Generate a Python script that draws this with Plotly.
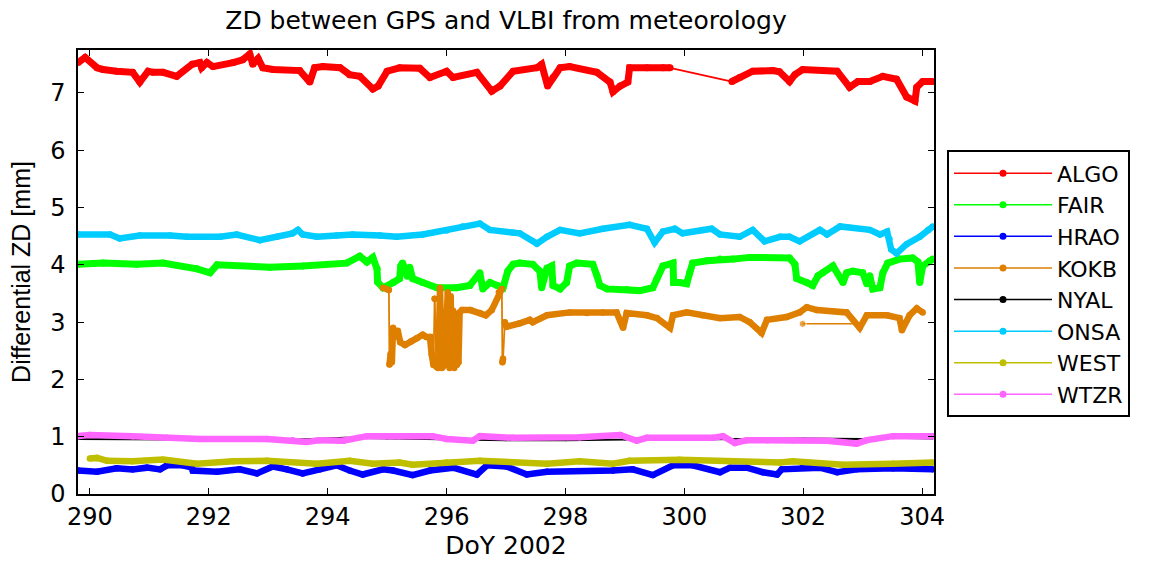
import plotly.graph_objects as go

# Differential zenith delay (GPS minus VLBI, meteorology based), DoY 2002.
# None marks a gap in the record; gaps are bridged with a thin line.

algo_day = [289.80, 289.92, 290.12, 290.22, 290.45, 290.72, 290.84, 290.98, 291.06, 291.23,
            291.46, 291.72, 291.85, 291.88, 291.97, 292.07, 292.41, 292.57, 292.69, 292.74,
            292.83, 292.91, 293.08, 293.53, 293.70, 293.78, 293.92, 294.21, 294.37, 294.54,
            294.76, 294.85, 295.00, 295.21, 295.55, 295.72, 296.00, 296.11, 296.51, 296.76,
            296.90, 297.12, 297.52, 297.60, 297.70, 297.79, 297.91, 298.07, 298.53, 298.75,
            298.80, 298.92, 299.05, 299.08, 299.37, 299.64, 299.76, None,
            300.80, 300.93, 301.15, 301.49, 301.60, 301.77, 301.86, 301.99, 302.57, 302.78,
            302.92, 303.12, 303.34, 303.57, 303.74, 303.88, 303.91, 304.01, 304.18]
algo_zd = [7.53, 7.62, 7.44, 7.41, 7.38, 7.36, 7.19, 7.38, 7.36, 7.36,
           7.29, 7.50, 7.53, 7.44, 7.53, 7.46, 7.53, 7.58, 7.68, 7.50,
           7.60, 7.44, 7.41, 7.39, 7.19, 7.44, 7.46, 7.44, 7.32, 7.29,
           7.07, 7.12, 7.38, 7.44, 7.43, 7.27, 7.38, 7.27, 7.36, 7.03,
           7.12, 7.38, 7.44, 7.50, 7.12, 7.27, 7.44, 7.46, 7.36, 7.19,
           7.02, 7.12, 7.19, 7.44, 7.44, 7.44, 7.44, None,
           7.20, 7.27, 7.38, 7.39, 7.37, 7.20, 7.32, 7.41, 7.38, 7.10,
           7.20, 7.20, 7.29, 7.24, 6.93, 6.86, 7.10, 7.20, 7.20]

fair_day = [289.80, 290.22, 290.79, 291.23, 291.80, 292.02, 292.14, 293.03, 293.58, 294.32,
            294.54, 294.66, 294.76, 294.83, 294.84, 294.93, 295.10, 295.21, 295.23, 295.26,
            295.31, 295.34, 295.38, 295.43, 295.60, 295.84, 296.17, 296.39, 296.56, 296.61,
            296.73, 296.85, 296.95, 297.03, 297.12, 297.23, 297.45, 297.57, 297.60, 297.69,
            297.77, 297.79, 297.91, 298.02, 298.07, 298.19, 298.46, 298.53, 298.58, 298.70,
            299.03, 299.25, 299.47, 299.54, 299.64, 299.81, 299.82, 299.92, 300.04, 300.09,
            300.14, 300.38, 300.60, 300.82, 301.10, 301.77, 301.86, 301.89, 302.06, 302.16,
            302.25, 302.33, 302.50, 302.67, 302.73, 302.83, 303.00, 303.07, 303.12, 303.17,
            303.29, 303.34, 303.42, 303.62, 303.84, 303.93, 303.96, 304.01, 304.13, 304.18]
fair_zd = [4.01, 4.03, 4.01, 4.03, 3.93, 3.86, 4.00, 3.96, 3.98, 4.03,
           4.15, 4.05, 4.13, 3.93, 3.70, 3.60, 3.69, 3.76, 3.98, 4.03,
           3.92, 3.80, 3.96, 3.76, 3.69, 3.60, 3.60, 3.64, 3.86, 3.58,
           3.69, 3.64, 3.60, 3.89, 4.01, 4.03, 4.01, 3.89, 3.60, 3.94,
           3.98, 3.64, 3.58, 3.69, 3.98, 4.03, 4.01, 3.81, 3.64, 3.58,
           3.57, 3.55, 3.60, 3.76, 3.98, 4.03, 3.69, 3.69, 3.67, 3.86,
           4.03, 4.07, 4.10, 4.10, 4.13, 4.12, 4.01, 3.76, 3.69, 3.64,
           3.81, 3.86, 3.98, 3.69, 3.86, 3.89, 3.86, 3.67, 3.81, 3.58,
           3.60, 3.86, 4.03, 4.10, 4.12, 4.05, 3.69, 3.98, 4.07, 4.10]

hrao_day = [289.80, 290.12, 290.45, 290.72, 290.96, 291.18, 291.30, 291.56, 291.72, 291.73,
            292.14, 292.52, 292.81, 293.08, 293.31, 293.58, 293.87, 294.15, 294.37, 294.59,
            294.93, 295.10, 295.43, 295.72, 296.11, 296.51, 296.68, 297.01, 297.35, 297.69,
            298.80, 299.13, 299.47, 299.81, 300.14, 300.60, 300.77, 301.05, 301.32, 301.56,
            301.64, 301.99, 302.28, 302.57, 302.90, 303.51, 304.18]
hrao_zd = [0.41, 0.39, 0.45, 0.43, 0.46, 0.43, 0.50, 0.50, 0.46, 0.41,
           0.39, 0.43, 0.36, 0.48, 0.43, 0.36, 0.43, 0.50, 0.41, 0.34,
           0.43, 0.41, 0.33, 0.41, 0.46, 0.34, 0.50, 0.48, 0.34, 0.39,
           0.41, 0.43, 0.33, 0.50, 0.50, 0.38, 0.46, 0.46, 0.38, 0.34,
           0.43, 0.46, 0.46, 0.38, 0.43, 0.45, 0.43]

kokb_day = [294.93, 295.03, None,
            295.04, 295.06, 295.08, 295.10, 295.14, 295.18, 295.22, 295.30, 295.40, 295.50,
            295.60, 295.66, 295.72, 295.75, 295.78, None,
            295.80, None,
            295.83, 295.86, 295.89, 295.92, 295.97, 296.02, 296.05, 296.07, 296.09, 296.11,
            296.13, 296.15, 296.17, 296.20, 296.22, 296.26, 296.40, 296.56, 296.66, 296.76,
            296.88, 296.93, None,
            296.94, 296.95, None,
            296.98, 297.01, 297.23, 297.40, 297.45, 297.69, 298.07, 298.36, 298.63, 298.86,
            298.97, 299.03, 299.37, 299.54, 299.76, 299.81, 300.04, 300.31, 300.60, 300.93,
            301.10, 301.30, 301.39, 301.72, 301.94, 302.06, 302.23, 302.73, 302.95, 303.07,
            303.41, 303.62, 303.66, 303.79, 303.91, 304.01]
kokb_zd = [3.60, 3.56, None,
           2.26, 2.45, 2.30, 2.90, 2.75, 2.85, 2.65, 2.60, 2.66, 2.72,
           2.78, 2.74, 2.74, 2.44, 2.25, None,
           3.41, None,
           2.22, 2.20, 3.60, 2.20, 2.25, 3.52, 2.20, 3.45, 2.22, 3.20,
           2.20, 3.05, 2.25, 2.30, 3.17, 3.21, 3.21, 3.16, 3.12, 3.21,
           3.52, 3.58, None,
           2.30, 2.36, None,
           3.00, 2.92, 2.98, 3.04, 3.00, 3.12, 3.17, 3.16, 3.17, 3.17,
           2.90, 3.16, 3.12, 3.07, 2.90, 3.12, 3.17, 3.12, 3.07, 3.09,
           3.00, 2.81, 3.04, 3.09, 3.17, 3.26, 3.21, 3.17, 2.90, 3.12,
           3.12, 3.07, 2.86, 3.12, 3.24, 3.17]
# a stray pair of KOKB samples joined across the band
kokb_stray_day = [301.99, 302.90]
kokb_stray_zd = [2.97, 2.97]

nyal_day = [289.80, 290.50, 291.50, 292.50, 293.50, 294.30, 295.00, 296.00, 297.00, 298.00,
            299.00, 299.30, 300.00, 301.00, 302.00, 303.00, 303.50, 304.18]
nyal_zd = [0.96, 0.96, 0.95, 0.94, 0.95, 0.98, 0.97, 0.95, 0.94, 0.94,
           0.95, 0.97, 0.95, 0.96, 0.97, 0.96, 0.98, 0.97]

onsa_day = [289.80, 290.34, 290.50, 290.84, 291.35, 291.63, 292.19, 292.47, 292.86, 293.15,
            293.41, 293.50, 293.58, 293.82, 294.15, 294.42, 294.88, 295.16, 295.60, 296.00,
            296.27, 296.56, 296.73, 297.12, 297.23, 297.52, 297.69, 297.91, 298.24, 298.63,
            299.08, 299.37, 299.50, 299.64, 299.84, 299.97, 300.31, 300.46, 300.60, 300.93,
            301.15, 301.35, 301.61, 301.77, 301.94, 302.28, 302.40, 302.62, 303.12, 303.29,
            303.41, 303.45, 303.48, 303.57, 303.74, 303.96, 304.10, 304.18]
onsa_zd = [4.53, 4.53, 4.46, 4.51, 4.51, 4.49, 4.49, 4.53, 4.43, 4.49,
           4.55, 4.61, 4.53, 4.49, 4.51, 4.53, 4.51, 4.49, 4.53, 4.60,
           4.67, 4.72, 4.61, 4.56, 4.55, 4.37, 4.49, 4.61, 4.55, 4.63,
           4.70, 4.63, 4.39, 4.58, 4.63, 4.55, 4.61, 4.63, 4.53, 4.49,
           4.61, 4.41, 4.49, 4.49, 4.41, 4.61, 4.53, 4.67, 4.61, 4.53,
           4.58, 4.45, 4.27, 4.20, 4.36, 4.49, 4.61, 4.67]

west_day = [290.00, 290.12, 290.29, 290.72, 291.23, 291.80, 292.41, 292.98, 293.82, 294.37,
            294.76, 295.21, 295.43, 296.00, 296.56, 297.69, 298.24, 298.80, 299.08, 299.92,
            300.77, 301.61, 301.83, 302.67, 303.51, 304.18]
west_zd = [0.62, 0.63, 0.58, 0.57, 0.60, 0.53, 0.57, 0.58, 0.53, 0.58,
           0.53, 0.55, 0.51, 0.55, 0.58, 0.53, 0.57, 0.53, 0.58, 0.60,
           0.57, 0.55, 0.57, 0.51, 0.53, 0.55]

wtzr_day = [289.80, 290.00, 290.72, 291.30, 291.85, 292.98, 293.41, 293.65, 293.87, 294.26,
            294.66, 295.21, 295.76, 296.00, 296.44, 296.56, 297.12, 298.24, 298.92, 299.20,
            299.37, 300.48, 300.65, 300.85, 301.05, 301.40, 301.83, 302.40, 302.90, 303.07,
            303.51, 304.18]
wtzr_zd = [1.01, 1.03, 1.01, 0.98, 0.96, 0.96, 0.94, 0.91, 0.94, 0.93,
           1.01, 1.01, 1.01, 0.96, 0.93, 1.01, 0.98, 0.99, 1.03, 0.93,
           0.98, 0.98, 1.01, 0.89, 0.94, 0.94, 0.94, 0.93, 0.88, 0.94,
           1.01, 1.01]

stations = ["ALGO", "FAIR", "HRAO", "KOKB", "NYAL", "ONSA", "WEST", "WTZR"]
colors = ["#ff0000", "#00ff00", "#0000ff", "#de7f00", "#000000", "#00ccff", "#bfbf00", "#ff66ff"]
series = [(algo_day, algo_zd), (fair_day, fair_zd), (hrao_day, hrao_zd), (kokb_day, kokb_zd),
          (nyal_day, nyal_zd), (onsa_day, onsa_zd), (west_day, west_zd), (wtzr_day, wtzr_zd)]
band_width = [7, 7, 6.5, 6.5, 2, 6.5, 6.5, 6.5]

XFONT = "DejaVu Sans, Liberation Sans, Arial, sans-serif"


def gap_bridges(days, vals):
    """Thin segments joining the last sample before each gap to the first one after it."""
    bx, by = [], []
    for i, d in enumerate(days):
        if d is None:
            j, k = i - 1, i + 1
            if j >= 0 and k < len(days) and days[j] is not None and days[k] is not None:
                bx += [days[j], days[k], None]
                by += [vals[j], vals[k], None]
    return bx, by


fig = go.Figure()

for name, col, (d, v), w in zip(stations, colors, series, band_width):
    fig.add_trace(go.Scatter(
        x=d, y=v, mode="lines+markers", name=name, showlegend=False,
        line=dict(color=col, width=w), marker=dict(color=col, size=w),
        connectgaps=False, hoverinfo="skip"))
    bx, by = gap_bridges(d, v)
    if bx:
        fig.add_trace(go.Scatter(
            x=bx, y=by, mode="lines+markers", showlegend=False,
            line=dict(color=col, width=1.8), marker=dict(color=col, size=6),
            connectgaps=False, hoverinfo="skip"))
    if name == "KOKB":
        fig.add_trace(go.Scatter(
            x=kokb_stray_day, y=kokb_stray_zd, mode="lines+markers", showlegend=False,
            line=dict(color=col, width=1.5), marker=dict(color=col, size=[7, 0]),
            hoverinfo="skip"))

# legend entries: thin line with a dot, as in the key box
for name, col in zip(stations, colors):
    fig.add_trace(go.Scatter(
        x=[None], y=[None], mode="lines+markers", name=name,
        line=dict(color=col, width=1.5), marker=dict(color=col, size=7)))

axis_common = dict(
    showgrid=False, zeroline=False, showline=True, linecolor="black", linewidth=1.5,
    mirror="ticks", ticks="inside", ticklen=6, tickwidth=1, tickcolor="black",
    tickfont=dict(family=XFONT, size=24, color="black"))

fig.update_xaxes(range=[289.8, 304.2], tick0=290, dtick=2, **axis_common,
                 title=dict(text="DoY 2002", font=dict(family=XFONT, size=25, color="black"),
                            standoff=4))
fig.update_yaxes(range=[0, 7.75], tick0=0, dtick=1, **axis_common, ticklabelstandoff=6,
                 title=dict(text="Differential ZD [mm]",
                            font=dict(family="Liberation Sans, Arial, sans-serif", size=25,
                                      color="black"),
                            standoff=12))

fig.update_layout(
    width=1149, height=564,
    margin=dict(l=78, r=215, t=50, b=62),
    paper_bgcolor="white", plot_bgcolor="white",
    title=dict(text="ZD between GPS and VLBI from meteorology", xref="paper", x=0.5,
               xanchor="center", yref="container", y=1 - 20 / 564, yanchor="middle",
               font=dict(family=XFONT, size=25, color="black")),
    legend=dict(x=1.0152, y=0.774, xanchor="left", yanchor="top",
                bordercolor="black", borderwidth=2, bgcolor="white",
                font=dict(family=XFONT, size=22, color="black"),
                itemwidth=98, tracegroupgap=0),
    showlegend=True,
)

fig.write_html("out.html")
